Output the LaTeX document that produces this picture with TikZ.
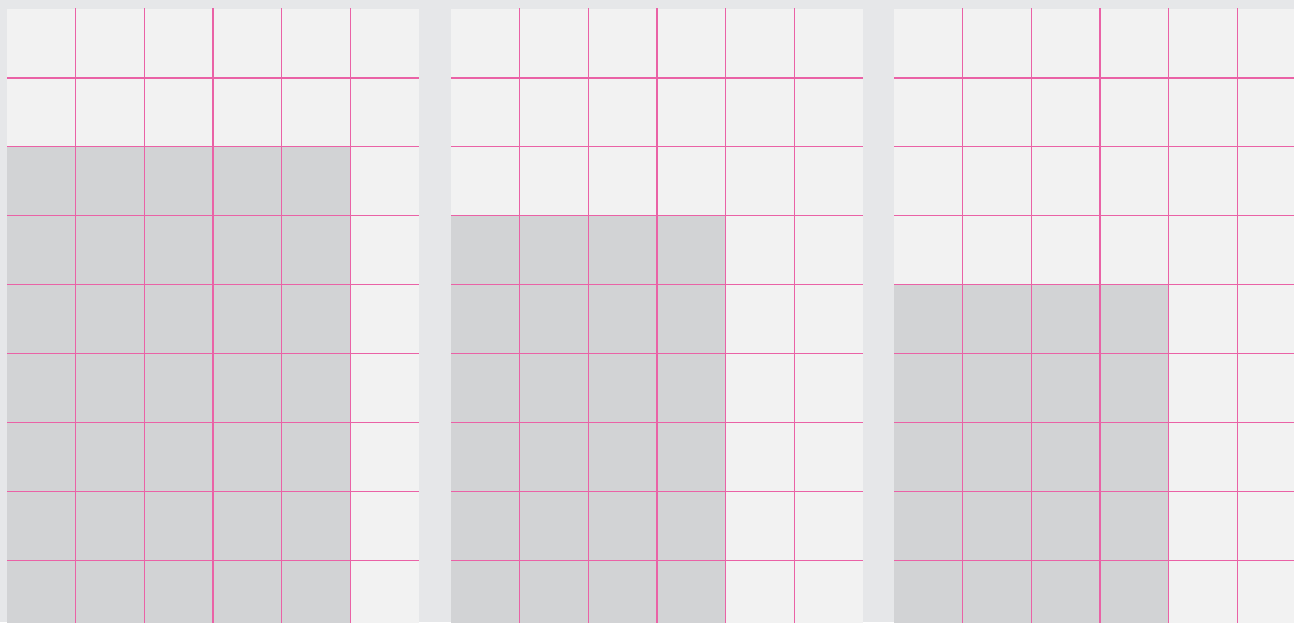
\documentclass[tikz,border=0pt]{standalone}
\usepackage{tikz}
\definecolor{bgray}{RGB}{230,231,233}
\definecolor{cellgray}{RGB}{242,242,242}
\definecolor{darkcell}{RGB}{210,211,213}
\definecolor{gridpink}{RGB}{234,98,166}
\tikzset{
  gridline/.style = {draw=gridpink, line width=0.7pt}
}
\begin{document}
\begin{tikzpicture}[x=0.02cm, y=-0.02cm]
  \def\cw{68.67}
  \def\ch{68.9}
  % panel: x offset / dark columns / first dark row
  \def\panel#1#2#3{%
    \fill[cellgray] (#1,9) rectangle (#1+6*\cw,640);
    \fill[darkcell] (#1,9+#3*\ch) rectangle (#1+#2*\cw,640);
    \foreach \i in {1,...,8}{
      \draw[gridline] (#1,9+\i*\ch) -- (#1+6*\cw,9+\i*\ch);
    }
    \foreach \j in {1,...,5}{
      \draw[gridline] (#1+\j*\cw,8) -- (#1+\j*\cw,640);
    }
  }

  \fill[bgray] (0,0) rectangle (1294,622);
  \useasboundingbox (0,0) rectangle (1294,622);
  \clip (0,0) rectangle (1294,622);

  \panel{7}{5}{2}
  \panel{451}{4}{3}
  \panel{894}{4}{4}

\end{tikzpicture}
\end{document}
